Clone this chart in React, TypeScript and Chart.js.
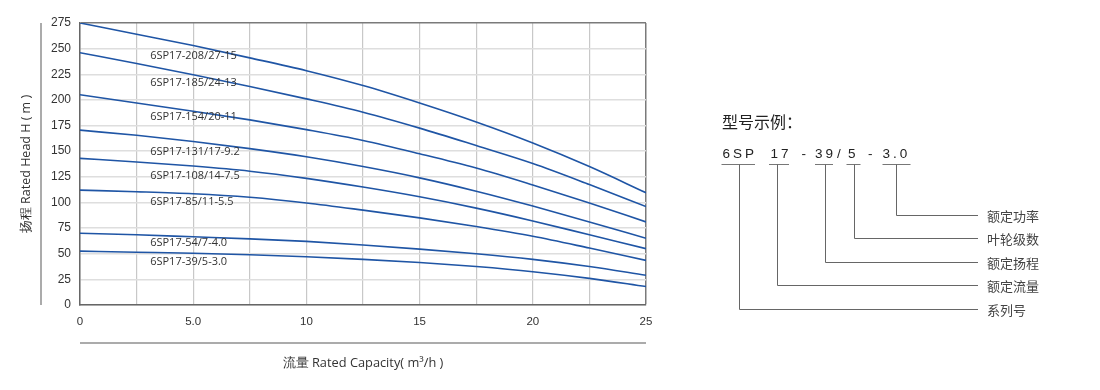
import React, { useEffect, useRef } from 'react';
import { Chart, registerables } from 'chart.js';

Chart.register(...registerables);

// ---- data ----
const flowValues = [0, 2.5, 5, 7.5, 10, 12.5, 15, 17.5, 20, 22.5, 25];
const seriesNames = [
  '6SP17-208/27-15',
  '6SP17-185/24-13',
  '6SP17-154/20-11',
  '6SP17-131/17-9.2',
  '6SP17-108/14-7.5',
  '6SP17-85/11-5.5',
  '6SP17-54/7-4.0',
  '6SP17-39/5-3.0',
];
const head208 = [275, 264, 253, 241, 228.5, 214, 197, 178.5, 158, 135, 109.5];
const head185 = [246, 235.5, 224.5, 213, 201, 188, 172.5, 155.5, 138, 117.5, 96];
const head154 = [205, 197, 189, 180.5, 171, 160.5, 147.5, 133.5, 117, 99.5, 81];
const head131 = [170.5, 165.5, 159.5, 152.5, 144.5, 135, 124, 111, 96.5, 81, 65];
const head108 = [143, 139.5, 135.5, 130.5, 123.5, 115, 105.5, 94.5, 82, 68.5, 55];
const head85 = [112, 110.5, 108.5, 105, 99.5, 92.5, 85, 76.5, 67, 55.5, 43.5];
const head54 = [70, 68.5, 66.5, 64.5, 62, 58.5, 54.5, 50, 44.5, 37.5, 29];
const head39 = [52.5, 51.5, 50.5, 49, 47, 44.5, 41.5, 37.5, 32.5, 26, 18];
const allHeads = [head208, head185, head154, head131, head108, head85, head54, head39];

const labelFlow = 3.1;
const labelHeads = [243, 217, 183, 149.5, 126, 101, 61, 42];

const xTickLabels: Record<string, string> = { '0': '0', '5': '5.0', '10': '10', '15': '15', '20': '20', '25': '25' };
const yTitle = '扬程 Rated Head H ( m )';
const xTitle = '流量 Rated Capacity( m³/h )';

// right-hand model code diagram
const exampleTitle = '型号示例：';
const codeParts = ['6SP', '17', '-', '39', '/', '5', '-', '3.0'];
const codePartX = [722.5, 770.5, 801.5, 815, 837, 848, 868, 882.5];
const underlines = [
  [721.5, 755],
  [769, 789],
  [815, 833],
  [846.5, 860.5],
  [882.5, 910.5],
];
const connectorX = [739.5, 777.5, 825.5, 854.5, 896.5];
const connectorY = [309.5, 285.5, 262.5, 238.5, 215.5];
const connectorLabels = ['系列号', '额定流量', '额定扬程', '叶轮级数', '额定功率'];

const lineColor = '#1f55a5';

export default function App() {
  const canvasRef = useRef<HTMLCanvasElement | null>(null);

  useEffect(() => {
    const canvas = canvasRef.current;
    if (!canvas) return;

    const decorPlugin = {
      id: 'decor',
      afterDatasetsDraw(chart: any) {
        const { ctx, scales } = chart;
        const xs = scales.x;
        const ys = scales.y;
        ctx.save();
        ctx.font = '11px "Open Sans"';
        ctx.fillStyle = '#333';
        ctx.textAlign = 'left';
        ctx.textBaseline = 'middle';
        seriesNames.forEach((name, i) => {
          ctx.fillText(name, xs.getPixelForValue(labelFlow), ys.getPixelForValue(labelHeads[i]));
        });
        ctx.restore();
      },
      afterDraw(chart: any) {
        const { ctx, chartArea } = chart;
        ctx.save();
        ctx.strokeStyle = '#ababab';
        ctx.lineWidth = 2;
        ctx.beginPath();
        ctx.moveTo(41, chartArea.top);
        ctx.lineTo(41, chartArea.bottom);
        ctx.moveTo(chartArea.left, 343);
        ctx.lineTo(chartArea.right, 343);
        ctx.stroke();
        ctx.restore();
      },
    };

    const chart = new Chart(canvas, {
      type: 'line',
      data: {
        datasets: allHeads.map((arr, i) => ({
          label: seriesNames[i],
          data: arr.map((h, j) => ({ x: flowValues[j], y: h })),
          borderColor: lineColor,
          borderWidth: 1.6,
          pointRadius: 0,
          fill: false,
          tension: 0.4,
          cubicInterpolationMode: 'monotone' as const,
        })),
      },
      options: {
        animation: false,
        responsive: false,
        devicePixelRatio: 1,
        layout: { padding: { left: 10, top: 23, right: 454, bottom: 15 } },
        plugins: { legend: { display: false }, tooltip: { enabled: false } },
        scales: {
          x: {
            type: 'linear',
            min: 0,
            max: 25,
            afterFit: (s: any) => {
              s.height = 70;
            },
            ticks: {
              stepSize: 2.5,
              autoSkip: false,
              maxRotation: 0,
              padding: 10,
              color: '#333',
              font: { family: '"Liberation Sans", Arial', size: 11.5 },
              callback: (v: any) => xTickLabels[String(v)] ?? '',
            },
            grid: {
              drawTicks: false,
              color: (c: any) => (c.tick && c.tick.value === 25 ? '#7a7a7a' : '#c8c8c8'),
              lineWidth: (c: any) => (c.tick && c.tick.value === 25 ? 1.5 : 1.2),
            },
            border: { display: true, color: '#666', width: 1.5 },
            title: {
              display: true,
              text: xTitle,
              color: '#333',
              font: { family: '"Open Sans"', size: 12.8 },
              padding: { top: 4, bottom: 4 },
            },
          },
          y: {
            type: 'linear',
            min: 0,
            max: 275,
            afterFit: (s: any) => {
              s.width = 70;
            },
            ticks: {
              stepSize: 25,
              autoSkip: false,
              padding: 9,
              color: '#333',
              font: { family: '"Liberation Sans", Arial', size: 12 },
            },
            grid: {
              drawTicks: false,
              color: (c: any) => (c.tick && c.tick.value === 275 ? '#7a7a7a' : '#dedede'),
              lineWidth: 1.5,
            },
            border: { display: true, color: '#666', width: 1.5 },
            title: {
              display: true,
              text: yTitle,
              color: '#333',
              font: { family: '"Open Sans"', size: 12.5 },
              padding: { top: 9, bottom: 4 },
            },
          },
        },
      },
      plugins: [decorPlugin],
    });

    return () => {
      chart.destroy();
    };
  }, []);

  return (
    <div style={{ position: 'fixed', left: 0, top: 0, width: 1100, height: 390, background: '#fff' }}>
      <canvas ref={canvasRef} width={1100} height={390} style={{ position: 'absolute', left: 0, top: 0 }} />
      <svg
        width={1100}
        height={390}
        style={{ position: 'absolute', left: 0, top: 0, pointerEvents: 'none' }}
      >
        <text
          x={722}
          y={121}
          dominantBaseline="central"
          fontFamily='"Noto Sans CJK SC"'
          fontSize={16}
          fill="#222"
        >
          {exampleTitle}
        </text>
        {codeParts.map((p, i) => (
          <text
            key={'c' + i}
            x={codePartX[i]}
            y={153.5}
            dominantBaseline="central"
            fontFamily='"Liberation Sans", Arial'
            fontSize={13.5}
            letterSpacing={3}
            fill="#222"
          >
            {p}
          </text>
        ))}
        {underlines.map((u, i) => (
          <line key={'u' + i} x1={u[0]} x2={u[1]} y1={164.5} y2={164.5} stroke="#777" strokeWidth={1} />
        ))}
        {connectorX.map((cx, i) => (
          <path
            key={'p' + i}
            d={`M${cx} 164.5 V${connectorY[i]} H978`}
            fill="none"
            stroke="#666"
            strokeWidth={1}
          />
        ))}
        {connectorLabels.map((l, i) => (
          <text
            key={'l' + i}
            x={987}
            y={connectorY[i]}
            dominantBaseline="central"
            fontFamily='"Noto Sans CJK SC"'
            fontSize={13}
            fill="#444"
          >
            {l}
          </text>
        ))}
      </svg>
    </div>
  );
}
